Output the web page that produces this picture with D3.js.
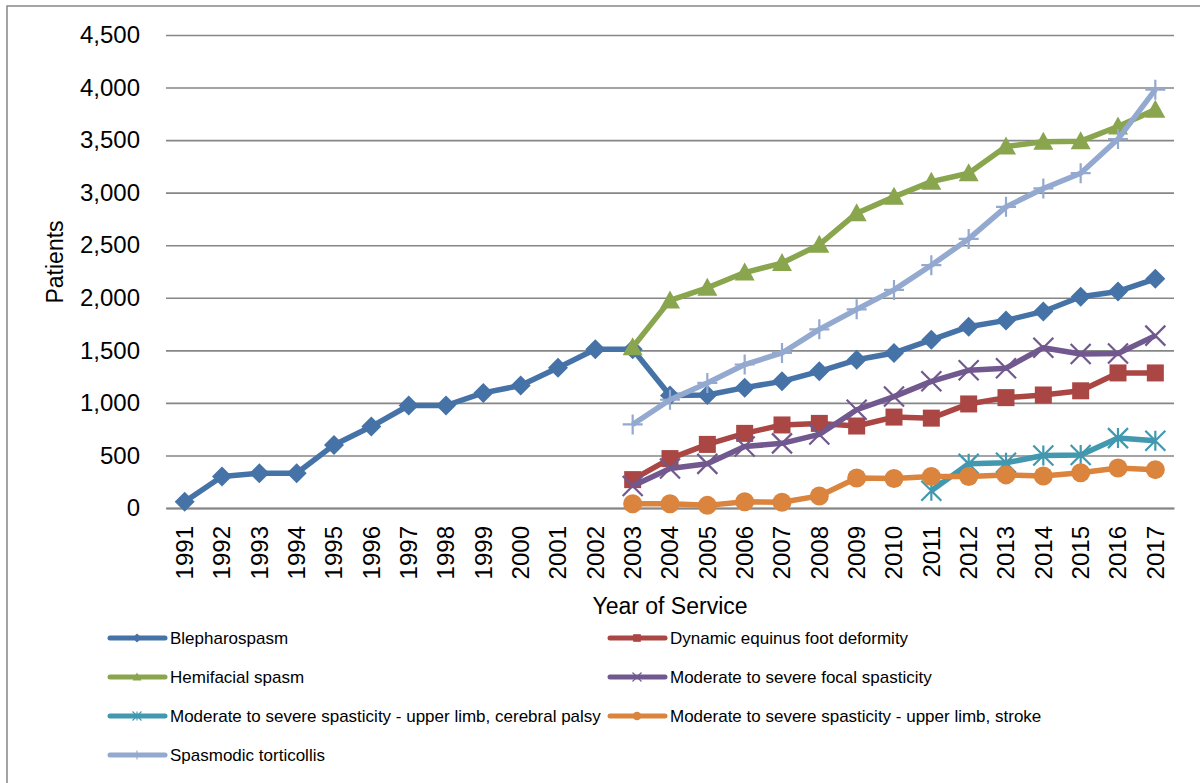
<!DOCTYPE html>
<html><head><meta charset="utf-8">
<script src="https://cdn.jsdelivr.net/npm/d3@7"></script>
<style>
html,body{margin:0;padding:0;background:#fff;}
svg{display:block;font-family:"Liberation Sans",Arial,sans-serif;}
</style></head>
<body><svg id="c" width="1200" height="783"></svg>
<script>
const years = d3.range(1991, 2018).map(String);
const yTicks = [0,500,1000,1500,2000,2500,3000,3500,4000,4500];

const blepharospasm = [60,300,330,330,600,775,975,975,1095,1165,1335,1510,1510,1070,1075,1145,1205,1300,1410,1475,1600,1725,1785,1870,2010,2060,2180];
const dynamicEquinus = [null,null,null,null,null,null,null,null,null,null,null,null,270,470,605,710,790,805,780,865,855,990,1050,1075,1115,1285,1285];
const hemifacial = [null,null,null,null,null,null,null,null,null,null,null,null,1530,1975,2095,2240,2330,2505,2805,2960,3105,3185,3440,3485,3490,3630,3790];
const focalSpasticity = [null,null,null,null,null,null,null,null,null,null,null,null,210,375,420,585,615,700,935,1060,1205,1310,1330,1525,1465,1470,1640];
const cerebralPalsy = [null,null,null,null,null,null,null,null,null,null,null,null,null,null,null,null,null,null,null,null,165,420,430,500,505,665,640];
const stroke = [null,null,null,null,null,null,null,null,null,null,null,null,40,40,25,60,55,115,285,280,300,300,315,305,335,380,365];
const torticollis = [null,null,null,null,null,null,null,null,null,null,null,null,795,1030,1190,1365,1475,1700,1890,2075,2310,2560,2865,3040,3185,3510,3980];

const seriesNames = ["Blepharospasm","Dynamic equinus foot deformity","Hemifacial spasm","Moderate to severe focal spasticity","Moderate to severe spasticity - upper limb, cerebral palsy","Moderate to severe spasticity - upper limb, stroke","Spasmodic torticollis"];
const seriesValues = [blepharospasm,dynamicEquinus,hemifacial,focalSpasticity,cerebralPalsy,stroke,torticollis];
const colors = ["#4572A7","#AA4643","#89A54E","#71588F","#4198AF","#DB843D","#93A9CF"];
const markers = ["diamond","square","triangle","x","asterisk","circle","plus"];

const svg = d3.select("#c");
// outer border
svg.append("rect").attr("x",7).attr("y",6).attr("width",1200).attr("height",800)
  .attr("fill","none").attr("stroke","#868686").attr("stroke-width",1.5);

const L=166, R=1174, T=35, B=508;
const x = d3.scaleBand().domain(years).range([L,R]);
const y = d3.scaleLinear().domain([0,4500]).range([B,T]);
const cx = d => x(d)+x.bandwidth()/2;

// gridlines
const gy = svg.append("g").attr("transform",`translate(${L},0)`)
  .call(d3.axisLeft(y).tickValues(yTicks).tickSize(-(R-L)).tickPadding(26).tickFormat(d3.format(",")));
gy.select(".domain").remove();
gy.selectAll(".tick line").attr("stroke","#868686").attr("stroke-width",1.6);
gy.selectAll(".tick text").attr("font-size",24).attr("fill","#000").attr("font-family","Liberation Sans, Arial, sans-serif");

// x axis
const gx = svg.append("g").attr("transform",`translate(0,${B})`)
  .call(d3.axisBottom(x).tickSize(0).tickPadding(0));
gx.select(".domain").attr("stroke","#868686").attr("stroke-width",2);
gx.selectAll(".tick text").attr("font-size",24).attr("fill","#000")
  .attr("font-family","Liberation Sans, Arial, sans-serif")
  .attr("text-anchor","end").attr("transform","rotate(-90)")
  .attr("x",-18).attr("y",0).attr("dy","0.35em");

// axis titles
svg.append("text").attr("x",(L+R)/2).attr("y",614).attr("text-anchor","middle")
  .attr("font-size",23).text("Year of Service");
svg.append("text").attr("transform","translate(63,262) rotate(-90)").attr("text-anchor","middle")
  .attr("font-size",23).text("Patients");

function drawMarker(g, type, color, s){
  const h=s/2;
  if(type==="diamond") g.append("path").attr("d",`M0,${-h}L${h},0L0,${h}L${-h},0Z`).attr("fill",color);
  else if(type==="square") g.append("rect").attr("x",-h*0.85).attr("y",-h*0.85).attr("width",h*1.7).attr("height",h*1.7).attr("fill",color);
  else if(type==="triangle") g.append("path").attr("d",`M0,${-h}L${h},${h*0.8}L${-h},${h*0.8}Z`).attr("fill",color);
  else if(type==="circle") g.append("circle").attr("r",h*0.95).attr("fill",color);
  else if(type==="x") g.append("path").attr("d",`M${-h},${-h}L${h},${h}M${-h},${h}L${h},${-h}`).attr("stroke",color).attr("stroke-width",s/10+0.2).attr("fill","none");
  else if(type==="asterisk") g.append("path").attr("d",`M${-h},${-h}L${h},${h}M${-h},${h}L${h},${-h}M0,${-h}L0,${h}`).attr("stroke",color).attr("stroke-width",s/10+0.2).attr("fill","none");
  else if(type==="plus") g.append("path").attr("d",`M${-h},0L${h},0M0,${-h}L0,${h}`).attr("stroke",color).attr("stroke-width",s/10+0.2).attr("fill","none");
}

const line = d3.line().defined(d=>d.v!=null).x(d=>cx(d.k)).y(d=>y(d.v));
seriesValues.forEach((vals,i)=>{
  const data = years.map((k,j)=>({k,v:vals[j]}));
  const g = svg.append("g");
  g.append("path").datum(data).attr("d",line).attr("fill","none")
    .attr("stroke",colors[i]).attr("stroke-width",5.5).attr("stroke-linejoin","round");
  data.filter(d=>d.v!=null).forEach(d=>{
    const mg = g.append("g").attr("transform",`translate(${cx(d.k)},${y(d.v)})`);
    drawMarker(mg, markers[i], colors[i], 20);
  });
});

// legend
const legPos = [[107,638],[607,638],[107,677],[607,677],[107,716],[607,716],[107,755]];
seriesNames.forEach((name,i)=>{
  const [lx,ly]=legPos[i];
  const g = svg.append("g").attr("transform",`translate(${lx},${ly})`);
  g.append("line").attr("x1",3).attr("x2",58).attr("stroke",colors[i]).attr("stroke-width",5).attr("stroke-linecap","round");
  const mg = g.append("g").attr("transform","translate(30,0)");
  drawMarker(mg, markers[i], colors[i], 9);
  g.append("text").attr("x",63).attr("y",0).attr("dy","0.35em").attr("font-size",17).attr("fill","#000").text(name);
});
</script></body></html>
